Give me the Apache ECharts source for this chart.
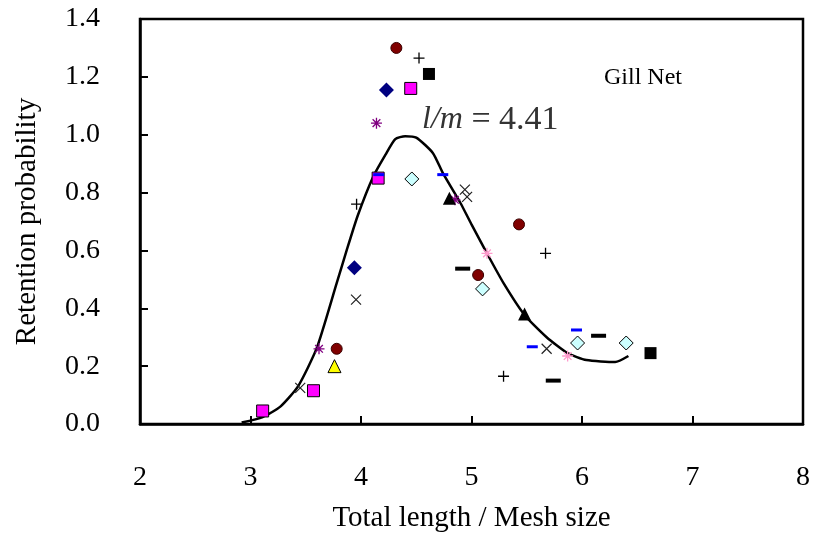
<!DOCTYPE html>
<html>
<head>
<meta charset="utf-8">
<script src="https://cdn.jsdelivr.net/npm/echarts@6/dist/echarts.min.js"></script>
<style>html,body{margin:0;padding:0;background:#fff}#c{width:816px;height:548px}</style>
</head>
<body>
<div id="c"></div>
<script>
// ---- data ----
var xTicks = [2, 3, 4, 5, 6, 7, 8];
var yTicks = [0.0, 0.2, 0.4, 0.6, 0.8, 1.0, 1.2, 1.4];

var darkRedCircles   = [[4.32,1.30],[5.43,0.69],[5.06,0.515],[3.78,0.26]];
var navyDiamonds     = [[4.23,1.155],[3.94,0.54]];
var magentaSquares   = [[4.45,1.16],[4.155,0.85],[3.57,0.115],[3.11,0.045]];
var blackSquares     = [[4.615,1.21],[6.62,0.245]];
var plusMarks        = [[4.525,1.265],[3.96,0.76],[5.67,0.59],[5.29,0.165]];
var purpleAsterisks  = [[4.14,1.04],[3.62,0.26],[4.85,0.775]];
var pinkAsterisks    = [[5.14,0.59],[5.87,0.235]];
var cyanDiamonds     = [[4.46,0.847],[5.10,0.467],[5.96,0.28],[6.40,0.28]];
var blackTriangles   = [[4.80,0.78],[5.48,0.38]];
var yellowTriangles  = [[3.76,0.20]];
var crossMarks       = [[3.955,0.43],[3.45,0.125],[4.94,0.81],[4.96,0.785],[5.68,0.26]];
var blueDashes       = [[4.16,0.862],[4.74,0.862],[5.55,0.267],[5.95,0.325]];
var blackDashes      = [[4.92,0.537],[6.15,0.305],[5.74,0.15]];

var curveX = [2.92,3.11,3.27,3.43,3.60,3.78,3.87,3.97,4.11,4.22,4.31,4.40,4.50,4.65,4.74,4.90,5.00,5.14,5.29,5.48,5.68,5.87,6.04,6.30,6.42];
var curveY = [0.005,0.024,0.06,0.13,0.263,0.487,0.60,0.72,0.855,0.93,0.985,0.995,0.99,0.937,0.868,0.764,0.69,0.59,0.487,0.377,0.30,0.245,0.221,0.214,0.235];

var annotationText = 'l/m';
var annotationValue = '4.41';
var gearLabel = 'Gill Net';

// ---- chart ----
var FONT = '"Liberation Serif", "DejaVu Serif", serif';
var curve = curveX.map(function (x, i) { return [x, curveY[i]]; });

var PLUS = 'path://M0,5L10,5M5,0L5,10';
var CROSS = 'path://M0,0L10,10M0,10L10,0';
var STAR = 'path://M0,5L10,5M5,0L5,10M1.5,1.5L8.5,8.5M1.5,8.5L8.5,1.5';

function sc(name, data, symbol, size, style) {
  style.opacity = 1;
  return { type: 'scatter', name: name, data: data, symbol: symbol, symbolSize: size,
           itemStyle: style, z: 3, silent: true };
}

var chart = echarts.init(document.getElementById('c'));
chart.setOption({
  animation: false,
  backgroundColor: '#fff',
  grid: { left: 140, right: 13, top: 19, bottom: 124, show: true, borderColor: '#000', borderWidth: 2.5, backgroundColor: 'transparent' },
  xAxis: {
    type: 'value', min: xTicks[0], max: xTicks[xTicks.length - 1], interval: 1,
    name: 'Total length / Mesh size', nameLocation: 'middle', nameGap: 80,
    nameTextStyle: { fontFamily: FONT, fontSize: 29, color: '#000' },
    axisLine: { show: true, lineStyle: { color: '#000', width: 2.5 } },
    axisTick: { show: true, inside: true, length: 8, lineStyle: { color: '#000', width: 2 } },
    axisLabel: { margin: 40, fontFamily: FONT, fontSize: 28, color: '#000' },
    splitLine: { show: false }
  },
  yAxis: {
    type: 'value', min: yTicks[0], max: yTicks[yTicks.length - 1], interval: 0.2,
    name: 'Retention probability', nameLocation: 'middle', nameGap: 98,
    nameTextStyle: { fontFamily: FONT, fontSize: 29, color: '#000' },
    axisLine: { show: true, lineStyle: { color: '#000', width: 2.5 } },
    axisTick: { show: true, inside: true, length: 8, lineStyle: { color: '#000', width: 2 } },
    axisLabel: { margin: 40, fontFamily: FONT, fontSize: 28, color: '#000',
                 formatter: function (v) { return v.toFixed(1); } },
    splitLine: { show: false }
  },
  series: [
    { type: 'line', name: 'fit', data: curve, smooth: 0.2, showSymbol: false, symbol: 'none',
      lineStyle: { color: '#000', width: 2.5, opacity: 1 }, z: 2, silent: true },
    sc('a', darkRedCircles, 'circle', 11, { color: '#800000', borderColor: '#3a0000', borderWidth: 1 }),
    sc('b', navyDiamonds, 'diamond', 15, { color: '#000080' }),
    sc('c', magentaSquares, 'rect', 12, { color: '#FF00FF', borderColor: '#000', borderWidth: 1 }),
    sc('d', blackSquares, 'rect', 12, { color: '#000' }),
    sc('e', plusMarks, PLUS, 11, { color: 'rgba(0,0,0,0)', borderColor: '#000', borderWidth: 1.3 }),
    sc('f', purpleAsterisks, STAR, 11, { color: 'rgba(0,0,0,0)', borderColor: '#800080', borderWidth: 1.3 }),
    sc('g', pinkAsterisks, STAR, 11, { color: 'rgba(0,0,0,0)', borderColor: '#FF99CC', borderWidth: 1.3 }),
    sc('h', cyanDiamonds, 'diamond', 14, { color: '#CCFFFF', borderColor: '#000', borderWidth: 1 }),
    sc('i', blackTriangles, 'triangle', 13, { color: '#000' }),
    sc('j', yellowTriangles, 'triangle', 13, { color: '#FFFF00', borderColor: '#000', borderWidth: 1 }),
    sc('k', crossMarks, CROSS, 10, { color: 'rgba(0,0,0,0)', borderColor: '#222', borderWidth: 1.2 }),
    sc('l', blueDashes, 'rect', [11, 3], { color: '#0000FF' }),
    sc('m', blackDashes, 'rect', [15, 4], { color: '#000' })
  ],
  graphic: [
    { type: 'text', left: 422, top: 103, z: 10,
      style: { text: '{i|' + annotationText + '}{e| = }{v|' + annotationValue + '}',
               font: '32px ' + FONT, fill: '#333',
               rich: { i: { fontStyle: 'italic', fontFamily: FONT, fontSize: 32, fill: '#333' },
                       e: { fontFamily: FONT, fontSize: 34, fill: '#333' },
                       v: { fontFamily: FONT, fontSize: 34, fill: '#333' } } } },
    { type: 'text', left: 604, top: 66, z: 10,
      style: { text: gearLabel, font: '24px ' + FONT, fill: '#000' } }
  ]
});
</script>
</body>
</html>
